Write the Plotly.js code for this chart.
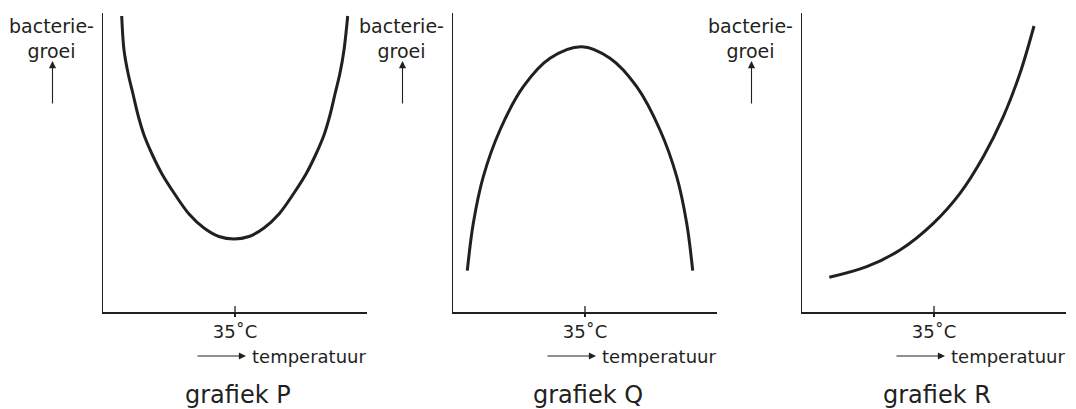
<!DOCTYPE html>
<html><head><meta charset="utf-8">
<script src="https://cdn.plot.ly/plotly-3.0.1.min.js"></script>
<style>html,body{margin:0;padding:0;background:#fff}#chart{width:1076px;height:409px}</style>
</head><body><div id="chart"></div>
<script>
// ---- data (units: x from y-axis, y up from x-axis) ----
const panelNames = ['grafiek P', 'grafiek Q', 'grafiek R'];
const tickValues = [132];
const tickLabels = ['35˚C'];
const yAxisLabel = 'bacterie-<br>groei';
const xAxisLabel = 'temperatuur';

const pX = [18.7, 21, 25, 30, 35, 41, 49, 59, 71, 86, 101, 116, 131, 146, 161, 176, 191, 203, 213, 221, 227, 232, 237, 241, 244.7];
const pY = [296, 262, 239, 218, 197, 177, 158, 138, 119, 98, 84, 75.5, 73, 75.5, 84, 98, 119, 138, 158, 177, 197, 218, 239, 262, 296];

const qX = [14.3, 20.3, 30.3, 47, 70.3, 97, 128.7, 157, 183.7, 207, 223.7, 233.7, 239.7];
const qY = [41.3, 88.7, 135.3, 182, 225.3, 253.7, 265.3, 253.7, 225.3, 182, 135.3, 88.7, 41.3];

const rX = [27.3, 64.7, 98, 131.3, 158, 181.3, 201.3, 218, 232];
const rY = [34.7, 45.3, 62, 88.7, 118.7, 155.3, 195.3, 238.7, 286];

const xRange = [0, 264];
const yRange = [0, 299];

// ---- layout helpers ----
const W = 1076, H = 409;
const px = v => v / W;
const py = v => 1 - v / H;
const ink = '#231f20';
const FONT = 'DejaVu Sans, Liberation Sans, sans-serif';

const origins = [103, 453, 802];   // pixel x of each y-axis
const axisBottom = 312, axisTop = 13;

const series = [[pX, pY], [qX, qY], [rX, rY]];
const traces = series.map((s, i) => ({
  x: s[0], y: s[1], type: 'scatter', mode: 'lines',
  line: {color: ink, width: 3, shape: 'spline', smoothing: 1},
  xaxis: i === 0 ? 'x' : 'x' + (i + 1),
  yaxis: i === 0 ? 'y' : 'y' + (i + 1),
  hoverinfo: 'skip', showlegend: false
}));

const layout = {
  width: W, height: H,
  margin: {l: 0, r: 0, t: 0, b: 0},
  paper_bgcolor: '#fff', plot_bgcolor: '#fff',
  showlegend: false,
  font: {family: FONT, color: ink, size: 19},
  annotations: [], shapes: []
};

origins.forEach((ox, i) => {
  const sx = i === 0 ? '' : String(i + 1);
  layout['xaxis' + sx] = {
    domain: [px(ox), px(ox + 264)], range: xRange, anchor: 'y' + sx,
    showline: true, linecolor: ink, linewidth: 1.5, showgrid: false, zeroline: false,
    tickmode: 'array', tickvals: tickValues, ticktext: tickLabels,
    ticks: 'outside', ticklen: 3, tickwidth: 1.3, tickcolor: ink,
    tickfont: {family: FONT, size: 18, color: ink}, fixedrange: true
  };
  layout['yaxis' + sx] = {
    domain: [py(axisBottom), py(axisTop)], range: yRange, anchor: 'x' + sx,
    showline: true, linecolor: ink, linewidth: 1.5, showgrid: false, zeroline: false,
    showticklabels: false, ticks: '', fixedrange: true
  };
  // upper part of the crossing tick mark
  tickValues.forEach(tv => layout.shapes.push({
    type: 'line', xref: 'x' + sx, yref: 'y' + sx, x0: tv, x1: tv, y0: 0, y1: 6,
    line: {color: ink, width: 1.3}
  }));
  const tx = ox + 132, ex = ox + 264, lx = ox - 51.5;
  layout.annotations.push(
    {text: yAxisLabel, xref: 'paper', yref: 'paper', x: px(lx), y: py(38.5),
     xanchor: 'center', yanchor: 'middle', showarrow: false, font: {size: 19}},
    {text: '', xref: 'paper', yref: 'paper', x: px(lx + 1), y: py(61),
     showarrow: true, ax: 0, ay: 44, arrowhead: 2, arrowsize: 1.3, arrowwidth: 1.1,
     arrowcolor: ink, standoff: 0, startstandoff: 0},
    {text: '', xref: 'paper', yref: 'paper', x: px(tx + 11), y: py(356),
     showarrow: true, ax: -50, ay: 0, arrowhead: 2, arrowsize: 1.3, arrowwidth: 1.1,
     arrowcolor: ink, standoff: 0, startstandoff: 0},
    {text: xAxisLabel, xref: 'paper', yref: 'paper', x: px(ex + 1), y: py(356),
     xanchor: 'right', yanchor: 'middle', showarrow: false, font: {size: 18}},
    {text: panelNames[i], xref: 'paper', yref: 'paper', x: px(tx + 3), y: py(395),
     xanchor: 'center', yanchor: 'middle', showarrow: false, font: {size: 24}}
  );
});

Plotly.newPlot('chart', traces, layout, {staticPlot: true, displayModeBar: false});
</script>
</body></html>
